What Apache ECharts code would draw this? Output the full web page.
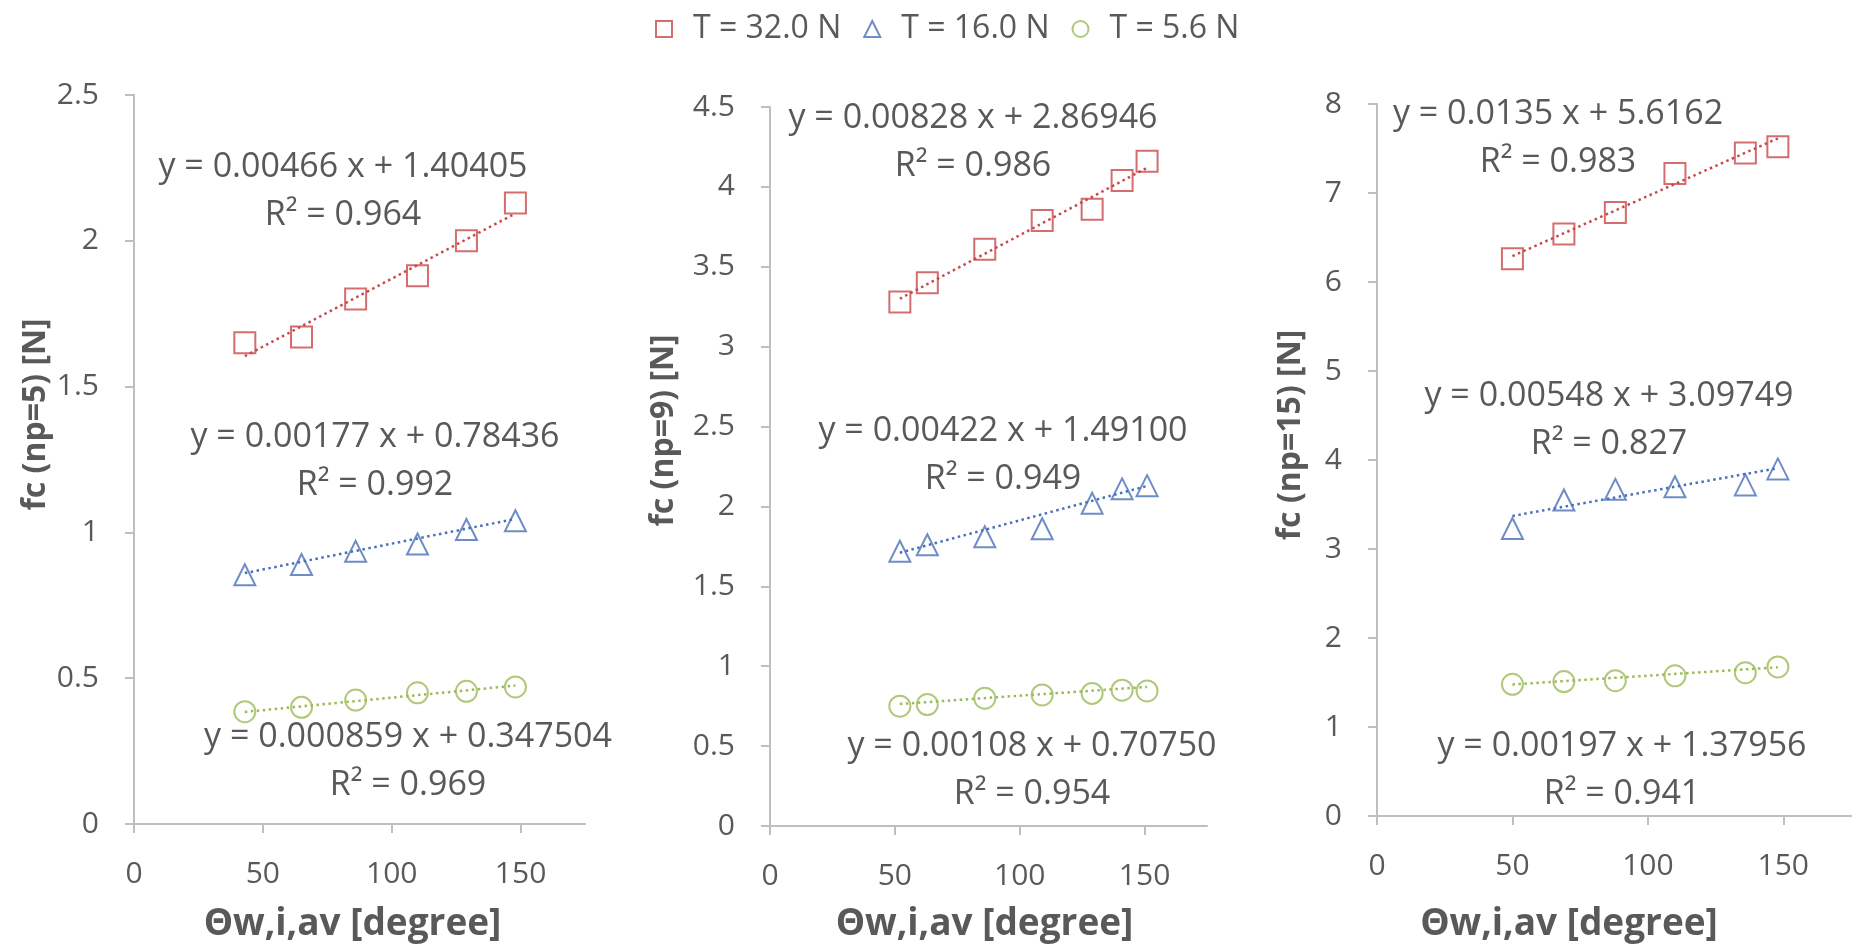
<!DOCTYPE html>
<html>
<head>
<meta charset="utf-8">
<script src="https://cdn.jsdelivr.net/npm/echarts@6/dist/echarts.min.js"></script>
<style>
  html, body { margin: 0; padding: 0; background: #fff; }
  #chart { width: 1853px; height: 948px; }
</style>
</head>
<body>
<div id="chart"></div>
<script>
// series names
var seriesNames = ['T = 32.0 N', 'T = 16.0 N', 'T = 5.6 N'];

// panel 1 (np=5)
var x1 = [43, 65, 86, 110, 129, 148];
var p1Red = [1.65, 1.67, 1.80, 1.88, 2.00, 2.13];
var p1Blue = [0.855, 0.89, 0.935, 0.96, 1.01, 1.04];
var p1Green = [0.385, 0.40, 0.425, 0.45, 0.455, 0.47];

// panel 2 (np=9)
var x2 = [52, 63, 86, 109, 129, 141, 151];
var p2Red = [3.28, 3.40, 3.61, 3.79, 3.86, 4.04, 4.16];
var p2Blue = [1.72, 1.76, 1.81, 1.86, 2.02, 2.11, 2.13];
var p2Green = [0.75, 0.76, 0.80, 0.82, 0.83, 0.85, 0.845];

// panel 3 (np=15)
var x3 = [50, 69, 88, 110, 136, 148];
var p3Red = [6.26, 6.54, 6.78, 7.22, 7.45, 7.52];
var p3Blue = [3.23, 3.55, 3.67, 3.70, 3.72, 3.90];
var p3Green = [1.48, 1.51, 1.52, 1.575, 1.61, 1.675];

// trendline coefficients (slope, intercept) as printed
var p1Slope = [0.00466, 0.00177, 0.000859];
var p1Inter = [1.40405, 0.78436, 0.347504];
var p2Slope = [0.00828, 0.00422, 0.00108];
var p2Inter = [2.86946, 1.49100, 0.70750];
var p3Slope = [0.0135, 0.00548, 0.00197];
var p3Inter = [5.6162, 3.09749, 1.37956];

var p1Eq = ['y = 0.00466 x + 1.40405\nR\u00b2 = 0.964', 'y = 0.00177 x + 0.78436\nR\u00b2 = 0.992', 'y = 0.000859 x + 0.347504\nR\u00b2 = 0.969'];
var p2Eq = ['y = 0.00828 x + 2.86946\nR\u00b2 = 0.986', 'y = 0.00422 x + 1.49100\nR\u00b2 = 0.949', 'y = 0.00108 x + 0.70750\nR\u00b2 = 0.954'];
var p3Eq = ['y = 0.0135 x + 5.6162\nR\u00b2 = 0.983', 'y = 0.00548 x + 3.09749\nR\u00b2 = 0.827', 'y = 0.00197 x + 1.37956\nR\u00b2 = 0.941'];

var yNames = ['fc (np=5) [N]', 'fc (np=9) [N]', 'fc (np=15) [N]'];
var xName = '\u0398w,i,av [degree]';
var xTicks = [0, 50, 100, 150];

var colors = ['#C9484A', '#4A70B8', '#9BBB59'];
var symbols = ['rect', 'triangle', 'circle'];
var textColor = '#595959';
var axisColor = '#BFBFBF';
var fontFam = '"Open Sans", "Noto Sans", sans-serif';

var panels = [
  { x: x1, ys: [p1Red, p1Blue, p1Green], slope: p1Slope, inter: p1Inter, eq: p1Eq,
    grid: { left: 134, top: 95, width: 451, height: 731 }, yMax: 2.5, yInt: 0.5,
    yGap: 82, yPad: [0, 0, 0, 90], xGap: 82, xPad: [0, 14, 0, 0],
    eqPos: [[343, 191], [375, 461], [408, 761]] },
  { x: x2, ys: [p2Red, p2Blue, p2Green], slope: p2Slope, inter: p2Inter, eq: p2Eq,
    grid: { left: 770, top: 107, width: 437, height: 721 }, yMax: 4.5, yInt: 0.5,
    yGap: 90, yPad: [0, 0, 0, 72], xGap: 80, xPad: [0, 8, 0, 0],
    eqPos: [[973, 142], [1003, 455], [1032, 770]] },
  { x: x3, ys: [p3Red, p3Blue, p3Green], slope: p3Slope, inter: p3Inter, eq: p3Eq,
    grid: { left: 1377, top: 104, width: 474, height: 716 }, yMax: 8, yInt: 1,
    yGap: 70, yPad: [0, 0, 0, 50], xGap: 90, xPad: [0, 90, 0, 0],
    eqPos: [[1558, 138], [1609, 420], [1622, 770]] }
];

var grids = [], xAxes = [], yAxes = [], series = [], graphics = [];

panels.forEach(function (p, i) {
  grids.push(Object.assign({ containLabel: false }, p.grid));
  xAxes.push({
    type: 'value', gridIndex: i, min: 0, max: 175, interval: 50,
    name: xName, nameLocation: 'middle', nameGap: p.xGap, nameMoveOverlap: false,
    nameTextStyle: { color: textColor, fontFamily: fontFam, fontSize: 37, fontWeight: 'bold', padding: p.xPad },
    axisLine: { show: true, lineStyle: { color: axisColor, width: 2 } },
    axisTick: { show: true, inside: false, length: 9, customValues: xTicks, lineStyle: { color: axisColor, width: 2 } },
    axisLabel: { show: true, margin: 35, customValues: xTicks, color: textColor, fontFamily: fontFam, fontSize: 30,
      formatter: function (v) { return v > 150 ? '' : String(v); } },
    splitLine: { show: false }
  });
  yAxes.push({
    type: 'value', gridIndex: i, min: 0, max: p.yMax, interval: p.yInt,
    name: yNames[i], nameLocation: 'middle', nameRotate: 90, nameGap: p.yGap, nameMoveOverlap: false,
    nameTextStyle: { color: textColor, fontFamily: fontFam, fontSize: 32, fontWeight: 'bold', padding: p.yPad },
    axisLine: { show: true, lineStyle: { color: axisColor, width: 2 } },
    axisTick: { show: true, inside: false, length: 9, lineStyle: { color: axisColor, width: 2 } },
    axisLabel: { show: true, margin: 35, color: textColor, fontFamily: fontFam, fontSize: 30 },
    splitLine: { show: false }
  });
  p.ys.forEach(function (vals, k) {
    var xmin = Math.min.apply(null, p.x), xmax = Math.max.apply(null, p.x);
    series.push({
      name: 'trend' + i + k, type: 'line', xAxisIndex: i, yAxisIndex: i,
      data: [[xmin, p.slope[k] * xmin + p.inter[k]], [xmax, p.slope[k] * xmax + p.inter[k]]],
      symbol: 'none', silent: true, z: 1,
      lineStyle: { color: colors[k], width: 2.5, type: [2.5, 3.5], cap: 'butt' }
    });
    series.push({
      name: seriesNames[k], type: 'scatter', xAxisIndex: i, yAxisIndex: i,
      data: p.x.map(function (xv, j) { return [xv, vals[j]]; }),
      symbol: symbols[k], symbolSize: 21, z: 2,
      itemStyle: { color: 'transparent', borderColor: colors[k], borderWidth: 2 }
    });
    graphics.push({
      type: 'text', x: p.eqPos[k][0], y: p.eqPos[k][1], silent: true,
      style: { text: p.eq[k], fill: textColor, fontSize: 34, fontFamily: fontFam,
        align: 'center', verticalAlign: 'middle', lineHeight: 48 }
    });
  });
});

var chart = echarts.init(document.getElementById('chart'));
chart.setOption({
  animation: false,
  backgroundColor: '#fff',
  legend: {
    data: seriesNames, left: 650, top: 8,
    itemWidth: 16, itemHeight: 16, itemGap: 22,
    textStyle: { color: textColor, fontFamily: fontFam, fontSize: 32, padding: [0, 0, 0, 16] }
  },
  grid: grids,
  xAxis: xAxes,
  yAxis: yAxes,
  series: series,
  graphic: graphics
});
</script>
</body>
</html>
